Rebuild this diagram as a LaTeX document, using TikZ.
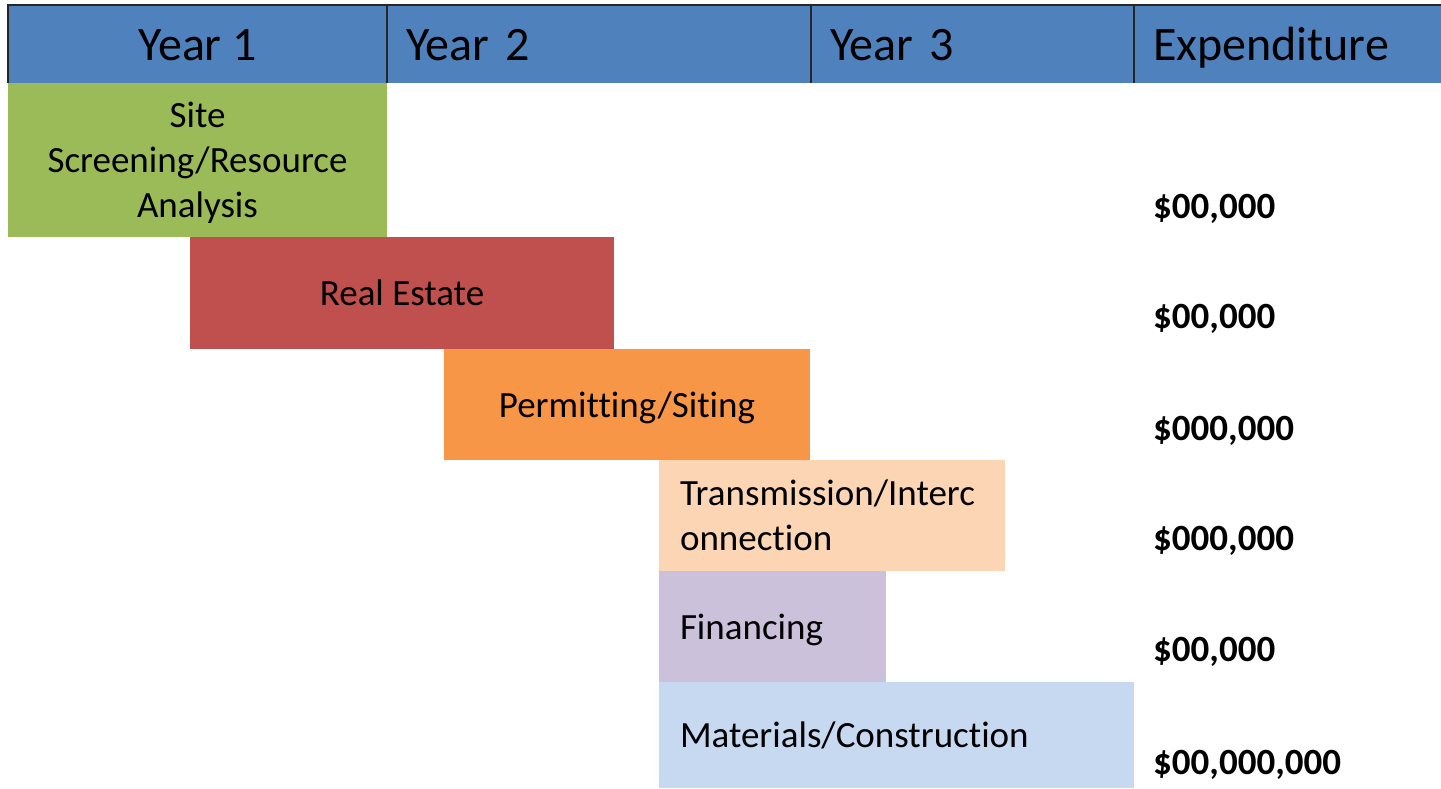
\documentclass[tikz,border=0pt]{standalone}
\usepackage{fontspec}
\setmainfont{Carlito}[Ligatures={NoCommon}]
\usetikzlibrary{positioning}

\definecolor{headblue}{HTML}{4F81BD}
\definecolor{barGreen}{HTML}{9BBB59}
\definecolor{barRed}{HTML}{C0504D}
\definecolor{barOrange}{HTML}{F79646}
\definecolor{barPeach}{HTML}{FCD5B5}
\definecolor{barLilac}{HTML}{CCC1DA}
\definecolor{barSky}{HTML}{C6D9F1}

\begin{document}
\begin{tikzpicture}[
    x=1pt, y=-1pt,
    head/.style={rectangle, fill=headblue, minimum height=78pt, inner sep=0pt, outer sep=0pt, anchor=north west, text height=32pt, text depth=0pt, font=\fontsize{48}{52}\selectfont},
    headleft/.style={inner xsep=19pt, align=left},
    headline/.style={draw=black!85, line width=2pt},
    bar/.style={rectangle, inner sep=0pt, outer sep=0pt, anchor=north west, align=center, font=\fontsize{37}{45}\selectfont},
    leftbar/.style={inner xsep=21pt, align=left},
    nodepth/.style={text depth=0pt},
    cost/.style={anchor=base west, inner sep=0pt, font=\fontsize{37}{45}\selectfont\bfseries}
]
\useasboundingbox (0,0) rectangle (1441,788);

% Header row
\node[head, minimum width=379pt] (yr1) at (8,5) {Year 1};
\node[head, headleft, text width=386pt, right=0pt of yr1] (yr2) {Year 2};
\node[head, headleft, text width=285pt, right=0pt of yr2] (yr3) {Year 3};
\node[head, headleft, text width=269pt, right=0pt of yr3] (exp) {Expenditure};

\draw[headline] (yr1.south west) -- (yr1.north west) -- (exp.north east);
\foreach \c in {yr2,yr3,exp}
    \draw[headline] (\c.north west) -- (\c.south west);

% Task bars
\node[bar, nodepth, fill=barGreen, minimum width=379pt, minimum height=154pt] (screen) at (8,83) {Site\\Screening/Resource\\Analysis};
\node[bar, fill=barRed, minimum width=424pt, minimum height=112pt] (estate) at (190,237) {Real Estate};
\node[bar, nodepth, fill=barOrange, minimum width=366pt, minimum height=111pt] (permit) at (444,349) {Permitting/Siting};
\node[bar, leftbar, fill=barPeach, text width=304pt, minimum height=111pt] (trans) at (659,460) {Transmission/Interc\\onnection};
\node[bar, leftbar, nodepth, fill=barLilac, text width=185pt, minimum height=111pt] (finance) at (659,571) {Financing};
\node[bar, leftbar, nodepth, fill=barSky, text width=433pt, minimum height=106pt] (build) at (659,682) {Materials/Construction};

% Expenditure column
\node[cost] (c1) at (1153,218) {\$00,000};
\node[cost] (c2) at (1153,328) {\$00,000};
\node[cost] (c3) at (1153,440) {\$000,000};
\node[cost] (c4) at (1153,550) {\$000,000};
\node[cost] (c5) at (1153,661) {\$00,000};
\node[cost] (c6) at (1153,774) {\$00,000,000};

\end{tikzpicture}
\end{document}
